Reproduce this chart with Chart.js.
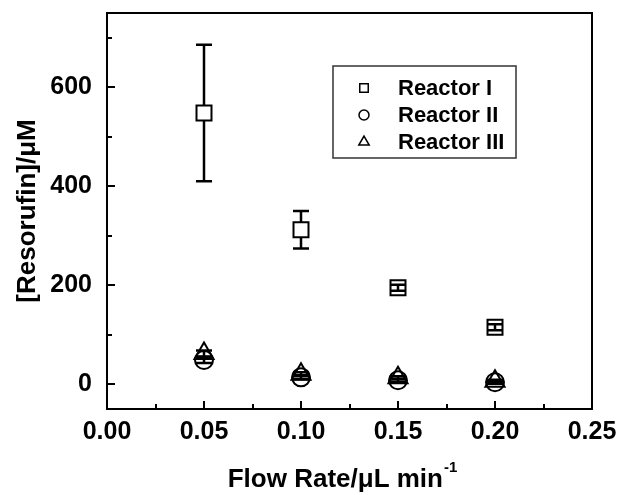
<!DOCTYPE html>
<html>
<head>
<meta charset="utf-8">
<script src="https://cdn.jsdelivr.net/npm/chart.js@4.4.1/dist/chart.umd.min.js"></script>
<style>body{margin:0;background:#fff}</style>
</head>
<body>
<canvas id="grafico" width="620" height="495"></canvas>
<script>
const flowRates = [0.05, 0.10, 0.15, 0.20]; // uL/min
const reactorI = [548, 312, 195, 115];
const reactorIErr = [138, 38, 6, 6];
const reactorII = [49, 14, 8, 4];
const reactorIIErr = [6, 4, 3, 3];
const reactorIII = [62, 20, 13, 6];
const reactorIIIErr = [6, 4, 3, 3];
const xTicks = [0, 0.025, 0.05, 0.075, 0.10, 0.125, 0.15, 0.175, 0.20, 0.225, 0.25];
const yTicks = [0, 100, 200, 300, 400, 500, 600, 700];
const seriesNames = ['Reactor I', 'Reactor II', 'Reactor III'];

const pontos = (ys) => flowRates.map((x, i) => ({x: x, y: ys[i]}));

// error bars, drawn from the marker edge outwards
const barrasErro = {
  id: 'barrasErro',
  afterDatasetsDraw(chart) {
    const ctx = chart.ctx;
    const ys = chart.scales.y, xs = chart.scales.x;
    chart.data.datasets.forEach((ds) => {
      ctx.save();
      ctx.strokeStyle = '#000';
      ctx.lineWidth = 2.5;
      ds.data.forEach((p, i) => {
        const px = xs.getPixelForValue(p.x);
        const py = ys.getPixelForValue(p.y);
        const top = ys.getPixelForValue(p.y + ds.erros[i]);
        const bot = ys.getPixelForValue(p.y - ds.erros[i]);
        const h = ds.meio;
        ctx.beginPath();
        if (py - top > h) {
          ctx.moveTo(px, py - h); ctx.lineTo(px, top);
          ctx.moveTo(px, py + h); ctx.lineTo(px, bot);
        } else {
          ctx.moveTo(px, top); ctx.lineTo(px, bot);
        }
        ctx.moveTo(px - 8, top); ctx.lineTo(px + 8, top);
        ctx.moveTo(px - 8, bot); ctx.lineTo(px + 8, bot);
        ctx.stroke();
      });
      ctx.restore();
    });
  }
};

// frame, inward ticks, titles and legend
const moldura = {
  id: 'moldura',
  afterDraw(chart) {
    const ctx = chart.ctx;
    const a = chart.chartArea;
    const xs = chart.scales.x, ys = chart.scales.y;
    ctx.save();
    ctx.strokeStyle = '#000';
    ctx.lineWidth = 2;
    ctx.strokeRect(a.left, a.top, a.right - a.left, a.bottom - a.top);
    ctx.beginPath();
    xTicks.forEach((v) => {
      const major = Math.round(v * 1000) % 50 === 0;
      const px = Math.round(xs.getPixelForValue(v));
      ctx.moveTo(px, a.bottom); ctx.lineTo(px, a.bottom - (major ? 8 : 5));
    });
    yTicks.forEach((v) => {
      const major = v % 200 === 0;
      const py = Math.round(ys.getPixelForValue(v));
      ctx.moveTo(a.left, py); ctx.lineTo(a.left + (major ? 8 : 5), py);
    });
    ctx.stroke();

    // axis titles
    ctx.fillStyle = '#000';
    ctx.font = 'bold 26px "Liberation Sans", Arial, sans-serif';
    ctx.textBaseline = 'alphabetic';
    const t1 = 'Flow Rate/\u03bcL min';
    const w1 = ctx.measureText(t1).width;
    ctx.font = 'bold 15px "Liberation Sans", Arial, sans-serif';
    const w2 = ctx.measureText('-1').width;
    const x0 = 342 - (w1 + w2) / 2;
    ctx.font = 'bold 26px "Liberation Sans", Arial, sans-serif';
    ctx.textAlign = 'left';
    ctx.fillText(t1, x0, 487);
    ctx.font = 'bold 15px "Liberation Sans", Arial, sans-serif';
    ctx.fillText('-1', x0 + w1 + 1, 472);

    ctx.save();
    ctx.translate(35, (a.top + a.bottom) / 2);
    ctx.rotate(-Math.PI / 2);
    ctx.font = 'bold 26px "Liberation Sans", Arial, sans-serif';
    ctx.textAlign = 'center';
    ctx.fillText('[Resorufin]/\u03bcM', 0, 0);
    ctx.restore();

    // legend
    ctx.lineWidth = 1.5;
    ctx.strokeStyle = '#333';
    ctx.strokeRect(333, 66, 183, 92);
    const estilos = ['rect', 'circle', 'triangle'];
    const raios = [6, 5, 6];
    const linhas = [88, 115, 142];
    ctx.font = 'bold 22px "Liberation Sans", Arial, sans-serif';
    ctx.textAlign = 'left';
    ctx.textBaseline = 'middle';
    seriesNames.forEach((nome, i) => {
      ctx.strokeStyle = '#000';
      ctx.fillStyle = '#fff';
      ctx.lineWidth = 1.5;
      Chart.helpers.drawPoint(ctx, {pointStyle: estilos[i], radius: raios[i], rotation: 0, borderWidth: 1.5}, 364, linhas[i]);
      ctx.fillStyle = '#000';
      ctx.fillText(nome, 398, linhas[i] + 1);
    });
    ctx.restore();
  }
};

const ctx = document.getElementById('grafico').getContext('2d');

new Chart(ctx, {
  type: 'scatter',
  data: {
    datasets: [
      {label: seriesNames[0], data: pontos(reactorI), erros: reactorIErr, meio: 7.5,
       pointStyle: 'rect', pointRadius: 10.6, pointBackgroundColor: '#fff'},
      {label: seriesNames[1], data: pontos(reactorII), erros: reactorIIErr, meio: 9,
       pointStyle: 'circle', pointRadius: 9, pointBackgroundColor: 'rgba(255,255,255,0)'},
      {label: seriesNames[2], data: pontos(reactorIII), erros: reactorIIIErr, meio: 8,
       pointStyle: 'triangle', pointRadius: 11, pointBackgroundColor: 'rgba(255,255,255,0)'}
    ].map((d) => Object.assign(d, {pointBorderColor: '#000', pointBorderWidth: 2, showLine: false}))
  },
  options: {
    responsive: false,
    animation: false,
    events: [],
    layout: {padding: {top: 12, right: 28, left: 0, bottom: 0}},
    plugins: {legend: {display: false}, tooltip: {enabled: false}},
    scales: {
      x: {
        type: 'linear', min: 0, max: 0.25,
        afterBuildTicks: (s) => { s.ticks = xTicks.map((v) => ({value: v})); },
        afterFit: (s) => { s.height = 86; s.paddingLeft = 0; s.paddingRight = 0; },
        grid: {display: false}, border: {display: false},
        ticks: {
          autoSkip: false, maxRotation: 0, padding: 0, color: '#000',
          font: {family: '"Liberation Sans", Arial, sans-serif', size: 25, weight: 'bold'},
          callback: (v) => (Math.round(v * 1000) % 50 === 0 ? Number(v).toFixed(2) : '')
        }
      },
      y: {
        type: 'linear', min: -50, max: 750,
        afterBuildTicks: (s) => { s.ticks = yTicks.map((v) => ({value: v})); },
        afterFit: (s) => { s.width = 107; s.paddingTop = 0; s.paddingBottom = 0; },
        grid: {display: false}, border: {display: false},
        ticks: {
          autoSkip: false, padding: 7, color: '#000',
          font: {family: '"Liberation Sans", Arial, sans-serif', size: 25, weight: 'bold'},
          callback: (v) => (v % 200 === 0 ? String(v) : '')
        }
      }
    }
  },
  plugins: [barrasErro, moldura]
});
</script>
</body>
</html>
